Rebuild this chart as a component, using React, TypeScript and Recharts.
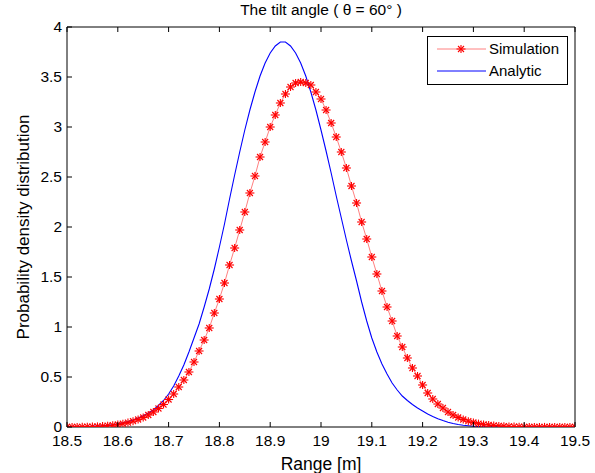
import React from "react";
import { LineChart, Line, XAxis, YAxis, Legend } from "recharts";

// range samples [m], step 0.01
const rangeM = [
  18.5, 18.51, 18.52, 18.53, 18.54, 18.55, 18.56, 18.57, 18.58, 18.59,
  18.6, 18.61, 18.62, 18.63, 18.64, 18.65, 18.66, 18.67, 18.68, 18.69,
  18.7, 18.71, 18.72, 18.73, 18.74, 18.75, 18.76, 18.77, 18.78, 18.79,
  18.8, 18.81, 18.82, 18.83, 18.84, 18.85, 18.86, 18.87, 18.88, 18.89,
  18.9, 18.91, 18.92, 18.93, 18.94, 18.95, 18.96, 18.97, 18.98, 18.99,
  19.0, 19.01, 19.02, 19.03, 19.04, 19.05, 19.06, 19.07, 19.08, 19.09,
  19.1, 19.11, 19.12, 19.13, 19.14, 19.15, 19.16, 19.17, 19.18, 19.19,
  19.2, 19.21, 19.22, 19.23, 19.24, 19.25, 19.26, 19.27, 19.28, 19.29,
  19.3, 19.31, 19.32, 19.33, 19.34, 19.35, 19.36, 19.37, 19.38, 19.39,
  19.4, 19.41, 19.42, 19.43, 19.44, 19.45, 19.46, 19.47, 19.48, 19.49,
  19.5,
];

const simulation = [
  0.001, 0.001, 0.001, 0.002, 0.003, 0.004, 0.006, 0.009, 0.013, 0.018,
  0.025, 0.033, 0.044, 0.058, 0.075, 0.095, 0.12, 0.15, 0.185, 0.225,
  0.275, 0.33, 0.4, 0.47, 0.55, 0.65, 0.76, 0.87, 0.99, 1.14,
  1.28, 1.44, 1.62, 1.79, 1.97, 2.15, 2.34, 2.51, 2.7, 2.85,
  3.0, 3.12, 3.24, 3.33, 3.4, 3.44, 3.45, 3.44, 3.42, 3.35,
  3.28, 3.17, 3.04, 2.9, 2.75, 2.59, 2.41, 2.24, 2.05, 1.88,
  1.7, 1.53, 1.36, 1.2, 1.06, 0.91, 0.8, 0.69, 0.59, 0.51,
  0.42, 0.34, 0.28, 0.23, 0.19, 0.15, 0.12, 0.095, 0.075, 0.058,
  0.045, 0.034, 0.026, 0.02, 0.015, 0.011, 0.008, 0.006, 0.004, 0.003,
  0.002, 0.001, 0.001, 0.001, 0.001, 0.001, 0.001, 0.001, 0.001, 0.001,
  0.001,
];

const analytic = [
  0.002, 0.002, 0.003, 0.004, 0.005, 0.007, 0.009, 0.012, 0.017, 0.023,
  0.031, 0.042, 0.055, 0.07, 0.09, 0.113, 0.14, 0.17, 0.215, 0.265,
  0.33, 0.41, 0.51, 0.62, 0.75, 0.89, 1.03, 1.2, 1.38, 1.58,
  1.8, 2.03, 2.28, 2.52, 2.75, 2.97, 3.17, 3.35, 3.51, 3.64,
  3.74, 3.81, 3.85, 3.85, 3.81, 3.74, 3.64, 3.51, 3.35, 3.17,
  2.97, 2.76, 2.54, 2.31, 2.09, 1.87, 1.66, 1.46, 1.25, 1.06,
  0.89, 0.75, 0.63, 0.53, 0.44, 0.37, 0.31, 0.265, 0.225, 0.19,
  0.16, 0.13, 0.105, 0.083, 0.064, 0.048, 0.035, 0.025, 0.017, 0.012,
  0.008, 0.005, 0.003, 0.002, 0.001, 0.001, 0.001, 0.001, 0.001, 0.001,
  0.001, 0.001, 0.001, 0.001, 0.001, 0.001, 0.001, 0.001, 0.001, 0.001,
  0.001,
];

const xTicks = [18.5, 18.6, 18.7, 18.8, 18.9, 19, 19.1, 19.2, 19.3, 19.4, 19.5];
const yTicks = [0, 0.5, 1, 1.5, 2, 2.5, 3, 3.5, 4];
const legendOrder = ["simulation", "analytic"];

const data = rangeM.map((r, i) => ({
  range: r,
  simulation: simulation[i],
  analytic: analytic[i],
}));

const FONT = '"Liberation Sans", Arial, Helvetica, sans-serif';
const SIM_RED = "#ff0000";
const SIM_LINE = "#ff8080";
const BLUE = "#0000ff";

function Star({ cx, cy }: { cx: number; cy: number }) {
  return (
    <g stroke={SIM_RED} strokeWidth={1.1} fill="none">
      <line x1={cx - 4.5} y1={cy} x2={cx + 4.5} y2={cy} />
      <line x1={cx} y1={cy - 4} x2={cx} y2={cy + 4} />
      <line x1={cx - 3} y1={cy - 3} x2={cx + 3} y2={cy + 3} />
      <line x1={cx - 3} y1={cy + 3} x2={cx + 3} y2={cy - 3} />
    </g>
  );
}

const starDot = (p: any) => {
  if (p.cx == null || p.cy == null) return <g key={p.index} />;
  return <Star key={p.index} cx={p.cx} cy={p.cy} />;
};

// matlab-ish inward ticks; tickSize/tickMargin = 0 so x,y sit on the axis line
const BottomTick = ({ x, y, payload }: any) => (
  <g>
    <line x1={x} y1={y} x2={x} y2={y - 5} stroke="#000" />
    <text x={x} y={y + 19} textAnchor="middle" fontSize={15.5} fontFamily={FONT} fill="#000">
      {payload.value}
    </text>
  </g>
);

const TopTick = ({ x, y }: any) => <line x1={x} y1={y} x2={x} y2={y + 5} stroke="#000" />;

const LeftTick = ({ x, y, payload }: any) => (
  <g>
    <line x1={x} y1={y} x2={x + 5} y2={y} stroke="#000" />
    <text x={x - 5} y={y + 5} textAnchor="end" fontSize={15.5} fontFamily={FONT} fill="#000">
      {payload.value}
    </text>
  </g>
);

const RightTick = ({ x, y }: any) => <line x1={x} y1={y} x2={x - 5} y2={y} stroke="#000" />;

const YLabel = ({ viewBox }: any) => {
  const cx = viewBox.x + 29;
  const cy = viewBox.y + viewBox.height / 2;
  return (
    <text
      x={cx}
      y={cy}
      transform={`rotate(-90, ${cx}, ${cy})`}
      textAnchor="middle"
      fontSize={17}
      fontFamily={FONT}
      fill="#000"
    >
      Probability density distribution
    </text>
  );
};

const renderLegend = ({ payload }: any) => {
  const items = [...(payload || [])].sort(
    (a: any, b: any) => legendOrder.indexOf(a.dataKey) - legendOrder.indexOf(b.dataKey)
  );
  return (
    <svg width={141} height={49} style={{ display: "block" }}>
      <rect x={0.5} y={0.5} width={140} height={48} fill="#fff" stroke="#000" />
      {items.map((entry: any, i: number) => {
        const y = 13 + i * 22;
        const isSim = entry.dataKey === "simulation";
        return (
          <g key={entry.value}>
            <line x1={10} y1={y} x2={59} y2={y} stroke={isSim ? SIM_LINE : BLUE} strokeWidth={1} />
            {isSim && <Star cx={34} cy={y} />}
            <text x={62} y={y + 5} fontSize={15} fontFamily={FONT} fill="#000">
              {entry.value}
            </text>
          </g>
        );
      })}
    </svg>
  );
};

export default function App() {
  return (
    <div style={{ position: "absolute", left: 0, top: 0, width: 595, height: 473, background: "#fff" }}>
      <LineChart width={595} height={473} data={data} margin={{ top: 0, right: 0, bottom: 0, left: 0 }}>
        <XAxis
          dataKey="range"
          type="number"
          domain={[18.5, 19.5]}
          ticks={xTicks}
          interval={0}
          allowDataOverflow
          height={46}
          tickSize={0}
          tickMargin={0}
          tickLine={false}
          axisLine={{ stroke: "#000" }}
          tick={BottomTick}
          label={{
            value: "Range [m]",
            position: "insideBottom",
            offset: 3,
            style: { fontSize: 17.5, fontFamily: FONT, fill: "#000" },
          }}
        />
        <XAxis
          xAxisId="top"
          orientation="top"
          dataKey="range"
          type="number"
          domain={[18.5, 19.5]}
          ticks={xTicks}
          interval={0}
          allowDataOverflow
          height={27}
          tickSize={0}
          tickMargin={0}
          tickLine={false}
          axisLine={{ stroke: "#000" }}
          tick={TopTick}
          label={{
            value: "The tilt angle ( \u03b8 = 60\u00b0 )",
            position: "insideTop",
            offset: 4,
            style: { fontSize: 15.5, fontFamily: FONT, fill: "#000" },
          }}
        />
        <YAxis
          type="number"
          domain={[0, 4]}
          ticks={yTicks}
          interval={0}
          allowDataOverflow
          width={67}
          tickSize={0}
          tickMargin={0}
          tickLine={false}
          axisLine={{ stroke: "#000" }}
          tick={LeftTick}
          label={{ content: YLabel }}
        />
        <YAxis
          yAxisId="right"
          orientation="right"
          type="number"
          domain={[0, 4]}
          ticks={yTicks}
          interval={0}
          width={20}
          tickSize={0}
          tickMargin={0}
          tickLine={false}
          axisLine={{ stroke: "#000" }}
          tick={RightTick}
        />
        <Legend
          layout="vertical"
          align="center"
          verticalAlign="middle"
          content={renderLegend}
          wrapperStyle={{ position: "absolute", left: 427, top: 36, width: 141, height: 49 }}
        />
        <Line
          name="Simulation"
          dataKey="simulation"
          type="linear"
          stroke={SIM_LINE}
          strokeWidth={1}
          dot={starDot}
          activeDot={false}
          isAnimationActive={false}
        />
        <Line
          name="Analytic"
          dataKey="analytic"
          type="linear"
          stroke={BLUE}
          strokeWidth={1.1}
          dot={false}
          activeDot={false}
          isAnimationActive={false}
        />
      </LineChart>
    </div>
  );
}
